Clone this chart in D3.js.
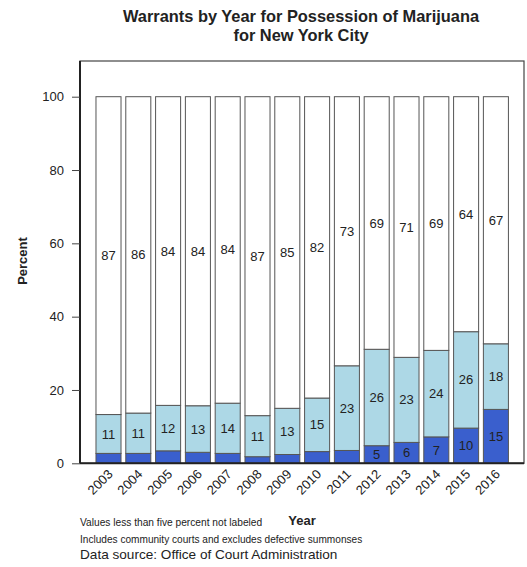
<!DOCTYPE html>
<html lang="en">
<head>
<meta charset="utf-8">
<title>Warrants by Year for Possession of Marijuana</title>
<script src="https://cdn.jsdelivr.net/npm/d3@7"></script>
<style>
  body { margin: 0; background: #fff; }
  text { font-family: "Liberation Sans", Arial, Helvetica, sans-serif; fill: #222; }
</style>
</head>
<body>
<script>
// chart data (percent of warrants per year)
var years = ["2003", "2004", "2005", "2006", "2007", "2008", "2009", "2010",
             "2011", "2012", "2013", "2014", "2015", "2016"];
var darkPct  = [2.7, 2.7, 3.4, 3.0, 2.7, 1.8, 2.4, 3.2, 3.5, 4.8, 5.7, 7.2, 9.6, 14.7];
var lightPct = [10.6, 11.0, 12.4, 12.7, 13.7, 11.2, 12.6, 14.6, 23.1, 26.3, 23.2, 23.6, 26.3, 17.9];
var whitePct = [86.7, 86.3, 84.2, 84.3, 83.6, 87.0, 85.0, 82.2, 73.4, 68.9, 71.1, 69.2, 64.1, 67.4];
var yTicks = [0, 20, 40, 60, 80, 100];
var seriesKeys = ["dark", "light", "white"];
var seriesColors = ["#3a5fcd", "#add8e6", "#ffffff"];

var w = 527, h = 567;
// plot area (not called "top", that name is taken by window.top)
var plotLeft = 80, plotRight = 524, plotTop = 61, plotBottom = 463.3;

var svg = d3.select("body").append("svg")
  .attr("width", w)
  .attr("height", h);

// rows for d3.stack
var rows = years.map(function(y, i) {
  return { year: y, dark: darkPct[i], light: lightPct[i], white: whitePct[i] };
});
var stacked = d3.stack().keys(seriesKeys)(rows);

var xScale = d3.scaleBand()
  .domain(years)
  .range([93.6, 510.8])
  .paddingInner(0.16)
  .paddingOuter(0.08);

var yScale = d3.scaleLinear()
  .domain([0, 100])
  .range([plotBottom, 96.7]);

// title
svg.append("text")
  .attr("x", 301).attr("y", 22)
  .attr("text-anchor", "middle")
  .style("font-size", "16.4px").style("font-weight", "bold")
  .text("Warrants by Year for Possession of Marijuana");
svg.append("text")
  .attr("x", 301).attr("y", 41)
  .attr("text-anchor", "middle")
  .style("font-size", "16.4px").style("font-weight", "bold")
  .text("for New York City");

// the bars
var groups = svg.selectAll("g.series")
  .data(stacked)
  .enter()
  .append("g")
  .attr("class", "series")
  .attr("fill", function(d, i) { return seriesColors[i]; });

groups.selectAll("rect")
  .data(function(d) { return d; })
  .enter()
  .append("rect")
  .attr("x", function(d) { return xScale(d.data.year); })
  .attr("y", function(d) { return yScale(d[1]); })
  .attr("width", xScale.bandwidth())
  .attr("height", function(d) { return yScale(d[0]) - yScale(d[1]); })
  .attr("stroke", "#555")
  .attr("stroke-width", 1);

// numbers in the middle of each piece, skip those under five
groups.selectAll("text.val")
  .data(function(d) { return d; })
  .enter()
  .filter(function(d) { return Math.round(d[1] - d[0]) >= 5; })
  .append("text")
  .attr("class", "val")
  .attr("x", function(d) { return xScale(d.data.year) + xScale.bandwidth() / 2; })
  .attr("y", function(d) { return yScale((d[0] + d[1]) / 2); })
  .attr("dy", "0.35em")
  .attr("text-anchor", "middle")
  .style("font-size", "13px")
  .text(function(d) { return Math.round(d[1] - d[0]); });

// box round the plot
svg.append("rect")
  .attr("x", plotLeft).attr("y", plotTop)
  .attr("width", plotRight - plotLeft).attr("height", plotBottom - plotTop)
  .attr("fill", "none")
  .attr("stroke", "#444")
  .attr("stroke-width", 1.2);

// y axis
var yAxis = svg.append("g")
  .attr("transform", "translate(" + plotLeft + ",0)")
  .call(d3.axisLeft(yScale).tickValues(yTicks).tickSize(8).tickPadding(8));
yAxis.select(".domain").attr("stroke", "#222").attr("stroke-width", 2)
  .attr("d", "M0," + plotTop + "V" + plotBottom);
yAxis.selectAll(".tick line").attr("stroke", "#444");
yAxis.selectAll(".tick text")
  .style("font-size", "13px")
  .attr("fill", "#222")
  .attr("font-family", null);

// bottom line
svg.append("line")
  .attr("x1", plotLeft).attr("x2", plotRight)
  .attr("y1", plotBottom).attr("y2", plotBottom)
  .attr("stroke", "#222").attr("stroke-width", 2);

// year labels, turned 45 degrees
svg.selectAll("text.year")
  .data(years)
  .enter()
  .append("text")
  .attr("class", "year")
  .attr("text-anchor", "end")
  .attr("transform", function(d) {
    var cx = xScale(d) + xScale.bandwidth() / 2 + 5;
    return "translate(" + cx + ",475) rotate(-45)";
  })
  .style("font-size", "13px")
  .text(function(d) { return d; });

// axis titles
svg.append("text")
  .attr("transform", "translate(27,261) rotate(-90)")
  .attr("text-anchor", "middle")
  .style("font-size", "13px").style("font-weight", "bold")
  .text("Percent");

svg.append("text")
  .attr("x", 302).attr("y", 525)
  .attr("text-anchor", "middle")
  .style("font-size", "13px").style("font-weight", "bold")
  .text("Year");

// notes under the chart
svg.append("text")
  .attr("x", 80).attr("y", 526)
  .style("font-size", "10.2px")
  .text("Values less than five percent not labeled");
svg.append("text")
  .attr("x", 80).attr("y", 543)
  .style("font-size", "10.1px")
  .text("Includes community courts and excludes defective summonses");
svg.append("text")
  .attr("x", 80).attr("y", 559)
  .style("font-size", "13.6px")
  .text("Data source: Office of Court Administration");
</script>
</body>
</html>
